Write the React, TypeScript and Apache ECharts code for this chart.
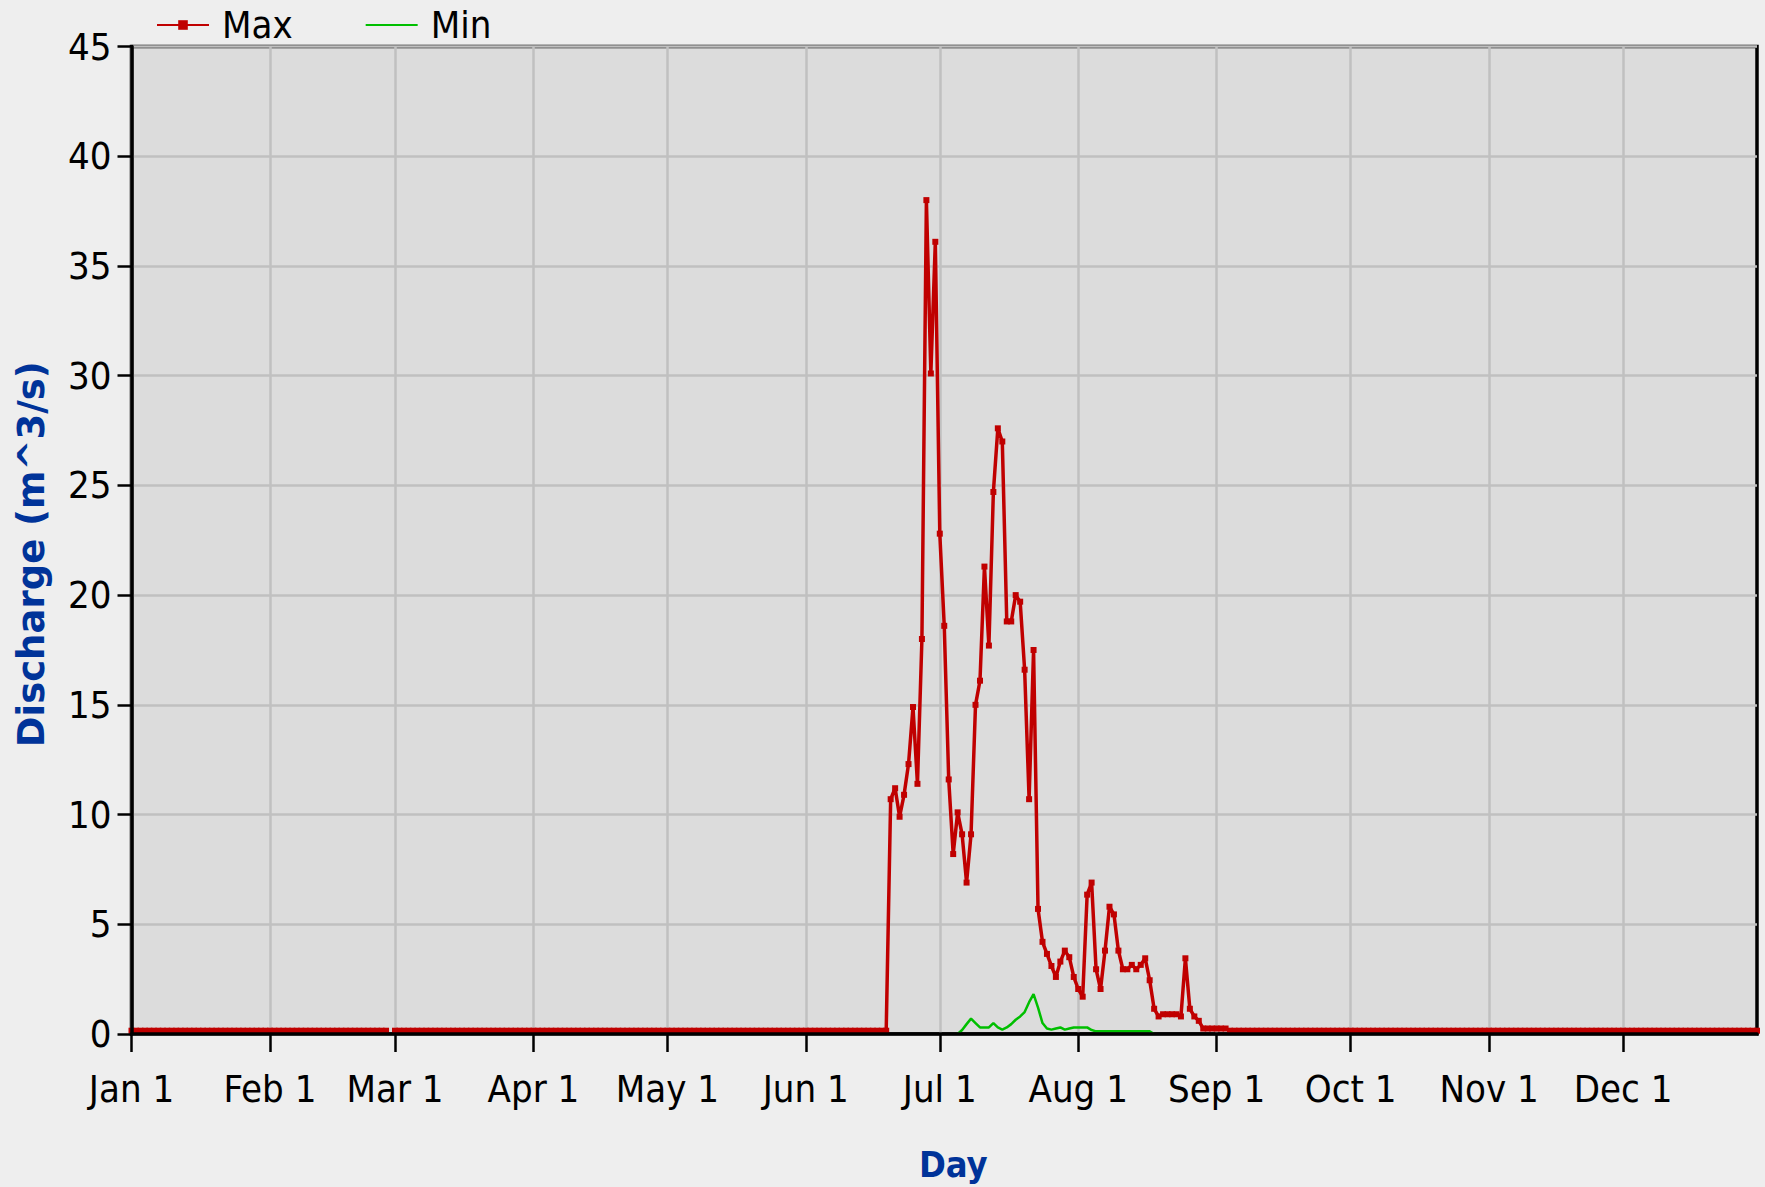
import React, { useEffect, useRef } from "react";
import * as echarts from "echarts";

// ---------- data ----------
const MONTHS = ["Jan", "Feb", "Mar", "Apr", "May", "Jun", "Jul", "Aug", "Sep", "Oct", "Nov", "Dec"];
const MONTH_LENGTHS = [31, 28, 31, 30, 31, 30, 31, 31, 30, 31, 30, 31];

const Y_MIN = 0;
const Y_MAX = 45;
const Y_STEP = 5;

// Max discharge: off-season level, and daily values from Jun 20 (day index 170)
const MAX_BASE = 0.15;
const MAX_START = 170;
const MAX_SEASON = [
  10.7, 11.2, 9.9, 10.9, 12.3, 14.9, 11.4, 18.0, 38.0, 30.1,
  36.1, 22.8, 18.6, 11.6, 8.2, 10.1, 9.1, 6.9, 9.1, 15.0,
  16.1, 21.3, 17.7, 24.7, 27.6, 27.0, 18.8, 18.8, 20.0, 19.7,
  16.6, 10.7, 17.5, 5.7, 4.2, 3.65, 3.1, 2.6, 3.3, 3.8,
  3.5, 2.6, 2.05, 1.7, 6.35, 6.9, 2.95, 2.05, 3.8, 5.8,
  5.45, 3.8, 2.95, 2.95, 3.15, 2.95, 3.15, 3.45, 2.45, 1.15,
  0.8, 0.9, 0.9, 0.9, 0.9, 0.8, 3.45, 1.15, 0.8, 0.6,
  0.25, 0.25, 0.25, 0.25, 0.25, 0.25,
];
const MAX_MISSING_DAY = 58; // gap in the record (end of February)

// Min discharge: daily values from Jul 4 (day index 185)
const MIN_START = 185;
const MIN_SEASON = [
  0.0, 0.18, 0.45, 0.7, 0.5, 0.3, 0.3, 0.3, 0.5, 0.3,
  0.2, 0.3, 0.45, 0.65, 0.8, 1.0, 1.45, 1.82, 1.2, 0.5,
  0.25, 0.2, 0.25, 0.3, 0.2, 0.25, 0.3, 0.3, 0.3, 0.3,
  0.18, 0.12, 0.12, 0.12, 0.12, 0.12, 0.12, 0.12, 0.12, 0.12,
  0.12, 0.12, 0.12, 0.12, 0.0,
];

// ---------- derived ----------
const DAYS: string[] = [];
const MONTH_STARTS: number[] = [];
MONTHS.forEach((m, mi) => {
  MONTH_STARTS.push(DAYS.length);
  for (let d = 1; d <= MONTH_LENGTHS[mi]; d++) DAYS.push(`${m} ${d}`);
});
const isMonthStart = (i: number) => MONTH_STARTS.indexOf(i) >= 0;

const maxData = DAYS.map((_, i) => {
  if (i === MAX_MISSING_DAY) return null;
  const k = i - MAX_START;
  return k >= 0 && k < MAX_SEASON.length ? MAX_SEASON[k] : MAX_BASE;
});
const minData = DAYS.map((_, i) => {
  const k = i - MIN_START;
  return k >= 0 && k < MIN_SEASON.length ? MIN_SEASON[k] : null;
});

const NARROW = "'Liberation Sans Narrow', 'Arial Narrow', 'DejaVu Sans Condensed', 'Liberation Sans', sans-serif";
const BLUE = "#003399";
const RED = "#c00000";
const GREEN = "#00bf00";
const GRID_COLOR = "#c0c0c0";
const LABEL_SIZE = 38;

export default function App() {
  const ref = useRef<HTMLDivElement>(null);
  useEffect(() => {
    const chart = echarts.init(ref.current!, null, { renderer: "svg" });
    chart.setOption({
      animation: false,
      backgroundColor: "#eeeeee",
      grid: {
        left: 131.5,
        right: 8,
        top: 46.5,
        bottom: 147.5,
        show: true,
        backgroundColor: "#dcdcdc",
        borderColor: "#000",
        borderWidth: 3.5,
      },
      legend: {
        left: 151,
        top: 1,
        itemWidth: 52,
        itemHeight: 12,
        itemGap: 72,
        textStyle: { fontFamily: NARROW, fontSize: LABEL_SIZE, color: "#000", padding: [0, 0, 0, 8] },
        data: [{ name: "Max" }, { name: "Min", itemStyle: { opacity: 0 } }],
      },
      xAxis: [
        {
          type: "category",
          data: DAYS,
          boundaryGap: false,
          position: "bottom",
          axisLine: { show: false },
          axisTick: { show: false },
          axisLabel: { show: false },
          splitLine: { show: true, interval: isMonthStart, lineStyle: { color: GRID_COLOR, width: 2.5 } },
          z: 0,
        },
        {
          type: "category",
          data: DAYS,
          boundaryGap: false,
          position: "bottom",
          axisLine: { show: true, lineStyle: { color: "#000", width: 3.5 } },
          axisTick: { show: true, interval: isMonthStart, length: 18, lineStyle: { color: "#000", width: 2.5 } },
          axisLabel: {
            show: true,
            interval: isMonthStart,
            margin: 36,
            fontFamily: NARROW,
            fontSize: LABEL_SIZE,
            color: "#000",
          },
          splitLine: { show: false },
          name: "Day",
          nameLocation: "middle",
          nameGap: 112,
          nameTextStyle: {
            fontFamily: NARROW,
            fontWeight: "bold",
            fontSize: 36,
            color: BLUE,
            padding: [0, 0, 0, 18],
          },
          z: 5,
        },
      ],
      yAxis: [
        {
          type: "value",
          min: Y_MIN,
          max: Y_MAX,
          interval: Y_STEP,
          position: "left",
          axisLine: { show: false },
          axisTick: { show: false },
          axisLabel: { show: false },
          splitLine: { show: true, lineStyle: { color: GRID_COLOR, width: 2.5 } },
          z: 0,
        },
        {
          type: "value",
          min: Y_MIN,
          max: Y_MAX,
          interval: Y_STEP,
          position: "left",
          axisLine: { show: true, lineStyle: { color: "#000", width: 3.5 } },
          axisTick: { show: true, length: 14, lineStyle: { color: "#000", width: 2.5 } },
          axisLabel: { margin: 20, fontFamily: NARROW, fontSize: LABEL_SIZE, color: "#000" },
          splitLine: { show: false },
          name: "Discharge (m^3/s)",
          nameLocation: "middle",
          nameGap: 82,
          nameRotate: 90,
          nameTextStyle: {
            fontFamily: "'DejaVu Sans', sans-serif",
            fontWeight: "bold",
            fontSize: 37,
            color: BLUE,
            padding: [0, 28, 0, 0],
          },
          z: 5,
        },
      ],
      series: [
        {
          name: "Max",
          type: "line",
          data: maxData,
          xAxisIndex: 0,
          yAxisIndex: 0,
          color: RED,
          lineStyle: { color: RED, width: 3.5 },
          itemStyle: { color: RED },
          symbol: "rect",
          symbolSize: 6,
          showSymbol: true,
          showAllSymbol: true,
          connectNulls: false,
          z: 3,
        },
        {
          name: "Min",
          type: "line",
          data: minData,
          xAxisIndex: 0,
          yAxisIndex: 0,
          color: GREEN,
          lineStyle: { color: GREEN, width: 2.5 },
          itemStyle: { color: GREEN },
          symbol: "none",
          showSymbol: false,
          connectNulls: false,
          z: 2,
        },
      ],
    });
    return () => chart.dispose();
  }, []);
  return (
    <div
      ref={ref}
      style={{ position: "fixed", left: 0, top: 0, width: 1765, height: 1187 }}
    />
  );
}
